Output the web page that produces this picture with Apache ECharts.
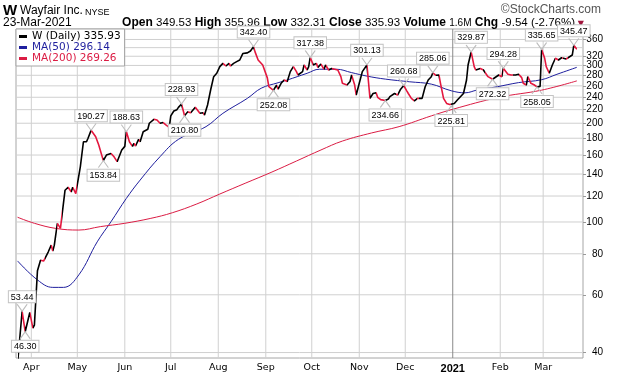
<!DOCTYPE html>
<html>
<head>
<meta charset="utf-8">
<script src="https://cdn.jsdelivr.net/npm/echarts@6/dist/echarts.min.js"></script>
<style>
  html, body { margin: 0; background: #fff; }
  #chart { width: 620px; height: 376px; }
</style>
</head>
<body>
<div id="chart"></div>
<script>
// daily close
const priceDates = [
  '2020-03-23','2020-03-26','2020-03-28','2020-03-31','2020-04-02','2020-04-03','2020-04-05','2020-04-07','2020-04-09','2020-04-10','2020-04-12','2020-04-14','2020-04-15','2020-04-16','2020-04-18','2020-04-20','2020-04-21','2020-04-23','2020-04-25','2020-04-27','2020-04-28','2020-04-30',
  '2020-05-01','2020-05-03','2020-05-05','2020-05-07','2020-05-08','2020-05-10','2020-05-13','2020-05-15','2020-05-16','2020-05-18','2020-05-20','2020-05-23','2020-05-25','2020-05-27','2020-05-30',
  '2020-06-01','2020-06-02','2020-06-04','2020-06-06','2020-06-07','2020-06-08','2020-06-10','2020-06-11','2020-06-13','2020-06-16','2020-06-17','2020-06-20','2020-06-22','2020-06-24','2020-06-26','2020-06-28','2020-06-30',
  '2020-07-01','2020-07-03','2020-07-05','2020-07-06','2020-07-08','2020-07-10','2020-07-12','2020-07-14','2020-07-15','2020-07-17','2020-07-18','2020-07-20','2020-07-22','2020-07-23','2020-07-25','2020-07-27','2020-07-29','2020-07-31',
  '2020-08-02','2020-08-04','2020-08-06','2020-08-08','2020-08-09','2020-08-11','2020-08-13','2020-08-15','2020-08-17','2020-08-20','2020-08-22','2020-08-24','2020-08-25','2020-08-27','2020-08-30','2020-08-31',
  '2020-09-02','2020-09-03','2020-09-06','2020-09-08','2020-09-09','2020-09-11','2020-09-13','2020-09-15','2020-09-17','2020-09-19','2020-09-21','2020-09-22','2020-09-25','2020-09-26','2020-09-28','2020-09-29','2020-09-30',
  '2020-10-02','2020-10-04','2020-10-05','2020-10-07','2020-10-09','2020-10-10','2020-10-12','2020-10-14','2020-10-16','2020-10-18','2020-10-20','2020-10-21','2020-10-24','2020-10-26','2020-10-27','2020-10-29','2020-10-30',
  '2020-11-01','2020-11-03','2020-11-06','2020-11-07','2020-11-08','2020-11-10','2020-11-12','2020-11-13','2020-11-15','2020-11-18','2020-11-20','2020-11-21','2020-11-24','2020-11-25','2020-11-26','2020-11-28','2020-11-30',
  '2020-12-02','2020-12-03','2020-12-05','2020-12-07','2020-12-09','2020-12-10','2020-12-12','2020-12-14','2020-12-16','2020-12-18','2020-12-19','2020-12-21','2020-12-23','2020-12-24','2020-12-26','2020-12-28','2020-12-30','2020-12-31',
  '2021-01-02','2021-01-04','2021-01-05','2021-01-08','2021-01-10','2021-01-11','2021-01-13','2021-01-15','2021-01-16','2021-01-19','2021-01-21','2021-01-22','2021-01-24','2021-01-27','2021-01-28','2021-01-31',
  '2021-02-02','2021-02-03','2021-02-06','2021-02-08','2021-02-09','2021-02-11','2021-02-13','2021-02-15','2021-02-16','2021-02-18','2021-02-19','2021-02-21','2021-02-23','2021-02-25','2021-02-27','2021-02-28',
  '2021-03-02','2021-03-03','2021-03-05','2021-03-07','2021-03-09','2021-03-11','2021-03-13','2021-03-14','2021-03-16','2021-03-17','2021-03-20','2021-03-21','2021-03-23'
];
const priceValues = [
  37, 53.44, 46.30, 53, 47.5, 48.5, 71, 76.5, 76, 75, 81, 85, 81.5, 85, 99, 95.6, 95, 125, 127.6, 123.5, 127.6, 122,
  121, 147.5, 175.6, 175.6, 180, 190.27, 182, 171.7, 170, 153.84, 160, 161.8, 158, 152.7, 165.8,
  170, 188.63, 175.6, 170, 173.7, 170.5, 178.6, 175.6, 188.5, 191.8, 200, 205.6, 204.6, 200, 201, 197.5, 194.4,
  210.6, 218, 220, 223.6, 228.93, 210.80, 216.6, 215.4, 216.6, 223.6, 220.6, 214.4, 215.4, 211.9, 227.3, 252.5, 277.3, 284,
  297.6, 304.5, 298.9, 304.5, 298.9, 304.5, 308.2, 311.7, 326.2, 327.7, 332, 342.40, 330, 311.7, 301, 297.6,
  275, 258.4, 252.08, 261.5, 254, 264.7, 270.9, 268.1, 287.3, 297.6, 287.3, 280.6, 287.3, 301, 290.6, 297.6, 317.38,
  301, 304.5, 296, 303, 292.2, 301, 290.6, 293.6, 292.2, 290.6, 277.3, 264.7, 261.5, 268.1, 280.6, 261.5, 243.8,
  264.7, 287.3, 301.13, 299, 238, 246.4, 247.6, 240, 236, 234.66, 237, 241, 246.4, 249.6, 243.8, 254, 260.68,
  251, 246.4, 238.2, 234, 238.2, 237, 238.2, 258.4, 270.9, 277.3, 285.06, 280, 280.6, 264.7, 238.2, 229.8, 228, 225.81,
  229.8, 235.4, 238.2, 246.4, 270.9, 301, 329.87, 297.6, 290.6, 293.6, 290.6, 293.6, 277.3, 272.32, 274, 280.6,
  277.3, 294.28, 282, 280.6, 277.3, 280.6, 282, 275.5, 264.7, 261.5, 277.3, 264.7, 262, 258.05, 259, 335.65,
  315.5, 297.6, 284, 301, 315.5, 311.7, 316.7, 313.2, 314, 311.7, 322.8, 345.47, 335.93
];

// 50-day moving average
const ma50Dates = ['2020-03-23','2020-04-05','2020-04-15','2020-04-22','2020-05-02','2020-05-14','2020-05-23','2020-06-02','2020-06-11','2020-06-24','2020-07-06','2020-07-24','2020-08-04','2020-08-20','2020-08-29','2020-09-09','2020-09-15','2020-09-28','2020-10-06','2020-10-17','2020-10-27','2020-11-06','2020-11-18','2020-12-04','2020-12-18','2020-12-31','2021-01-09','2021-01-17','2021-01-30','2021-02-13','2021-02-28','2021-03-10','2021-03-23'];
const ma50Values = [76.1, 66.6, 63.2, 63.2, 69, 87, 100.2, 118, 134.2, 158.2, 178.6, 195.3, 214.4, 238.2, 255.7, 265.7, 270.9, 284, 292.2, 292.2, 285.3, 278.4, 272.6, 267.5, 263.2, 251.2, 247.6, 252.5, 258.4, 266, 271.5, 282, 296.14];

// 200-day moving average
const ma200Dates = ['2020-03-23','2020-04-03','2020-04-17','2020-05-02','2020-05-16','2020-06-01','2020-06-18','2020-07-02','2020-07-18','2020-08-02','2020-08-19','2020-09-05','2020-09-21','2020-10-07','2020-10-21','2020-11-09','2020-11-27','2020-12-18','2021-01-01','2021-01-31','2021-02-28','2021-03-23'];
const ma200Values = [103.4, 99.1, 95.6, 94.5, 96.8, 99.1, 102.6, 106.7, 113.5, 121.7, 131.5, 142, 153.4, 165.8, 176.5, 186.8, 195.3, 210.6, 220.6, 239.8, 252.3, 269.26];

// tagged highs / lows
const annoDates = ['2020-03-26','2020-03-28','2020-05-10','2020-05-18','2020-06-02','2020-07-08','2020-07-10','2020-08-24','2020-09-06','2020-09-30','2020-11-06','2020-11-18','2020-11-30','2020-12-19','2020-12-31','2021-01-13','2021-01-27','2021-02-03','2021-02-25','2021-02-28','2021-03-21'];
const annoValues = [53.44, 46.30, 190.27, 153.84, 188.63, 228.93, 210.80, 342.40, 252.08, 317.38, 301.13, 234.66, 260.68, 285.06, 225.81, 329.87, 272.32, 294.28, 258.05, 335.65, 345.47];
const annoSides = ['top','bottom','top','bottom','top','top','bottom','top','bottom','top','top','bottom','top','top','bottom','top','bottom','top','bottom','top','top'];

// axes
const yTicks = [40, 60, 80, 100, 120, 140, 160, 180, 200, 220, 240, 260, 280, 300, 320, 340, 360];
const monthStarts = ['2020-04-01','2020-05-01','2020-06-01','2020-07-01','2020-08-01','2020-09-01','2020-10-01','2020-11-01','2020-12-01','2021-01-01','2021-02-01','2021-03-01'];
const monthNames = ['Jan','Feb','Mar','Apr','May','Jun','Jul','Aug','Sep','Oct','Nov','Dec'];

// header quote
const quoteLabels = ['Open', 'High', 'Low', 'Close', 'Volume', 'Chg'];
const quoteValues = ['349.53', '355.96', '332.31', '335.93', '1.6M', '-9.54 (-2.76%)'];

const UP = '#000000';
const DOWN = '#e3173e';
const NAVY = '#1f1f9e';
const CRIMSON = '#db1c44';
const GRID = '#d0d0d0';
const YEAR_LINE = '#8a8a8a';

const toTime = s => Date.parse(s);
const lg = v => Math.log10(v);

const X_MIN = toTime('2020-03-22');
const X_MAX = toTime('2021-03-27');
const Y_MIN = lg(38.5);
const Y_MAX = lg(387.5);

const priceData = priceDates.map((d, i) => [toTime(d), lg(priceValues[i])]);
const ma50Data = ma50Dates.map((d, i) => [toTime(d), lg(ma50Values[i])]);
const ma200Data = ma200Dates.map((d, i) => [toTime(d), lg(ma200Values[i])]);

// black when the close went up, red when it went down
const pieces = [];
for (let i = 0; i < priceData.length - 1; i++) {
  const p = { gte: priceData[i][0], color: priceValues[i + 1] >= priceValues[i] ? UP : DOWN };
  if (i === priceData.length - 2) p.lte = priceData[i + 1][0];
  else p.lt = priceData[i + 1][0];
  pieces.push(p);
}

const priceName = 'W (Daily) ' + priceValues[priceValues.length - 1].toFixed(2);
const ma50Name = 'MA(50) ' + ma50Values[ma50Values.length - 1].toFixed(2);
const ma200Name = 'MA(200) ' + ma200Values[ma200Values.length - 1].toFixed(2);

const annoData = annoDates.map((d, i) => {
  const top = annoSides[i] === 'top';
  return {
    value: [toTime(d), lg(annoValues[i]), annoValues[i]],
    symbol: top ? 'path://M0,0L5,7L10,0' : 'path://M0,7L5,0L10,7',
    symbolOffset: [0, top ? -3.5 : 3.5],
    label: { position: annoSides[i] }
  };
});

// grid lines as plain two-point line series through the axes
const gridSeries = yTicks.map(v => ({
    type: 'line',
    data: [[X_MIN, lg(v)], [X_MAX, lg(v)]],
    symbol: 'none',
    silent: true,
    z: 2,
    lineStyle: { color: GRID, width: 1 },
    itemStyle: { color: GRID }
  }))
  .concat(monthStarts.map(d => {
    const c = d.endsWith('01-01') ? YEAR_LINE : GRID;
    return {
      type: 'line',
      data: [[toTime(d), Y_MIN], [toTime(d), Y_MAX]],
      symbol: 'none',
      silent: true,
      z: 2,
      lineStyle: { color: c, width: 1 },
      itemStyle: { color: c }
    };
  }));

const quoteText = quoteLabels.map((l, i) =>
  '{b|' + l + '} {' + (l === 'Volume' ? 's' : 'n') + '|' + quoteValues[i] + '}'
).join(' ');

const chart = echarts.init(document.getElementById('chart'));

chart.setOption({
  animation: false,
  backgroundColor: '#fff',
  textStyle: { fontFamily: 'Liberation Sans' },
  grid: {
    left: 16, right: 37, top: 29, bottom: 18,
    show: true, borderColor: '#a6a6a6', borderWidth: 1,
    backgroundColor: 'transparent',
    outerBoundsMode: 'none'
  },
  graphic: [
    { type: 'text', left: 3, top: 3, style: { text: 'W', font: 'bold 15px "Liberation Sans"', fill: '#000' } },
    { type: 'text', left: 20, top: 5, style: { text: 'Wayfair Inc.', font: '12px "Liberation Sans"', fill: '#000' } },
    { type: 'text', left: 85, top: 8, style: { text: 'NYSE', font: '9px "Liberation Sans"', fill: '#000' } },
    { type: 'text', left: 3, top: 17, style: { text: '23-Mar-2021', font: '12px "Liberation Sans"', fill: '#000' } },
    {
      type: 'text', right: 45, top: 17,
      style: {
        text: quoteText,
        font: '12px "Liberation Sans"',
        fill: '#000',
        rich: {
          b: { fontWeight: 'bold', fontSize: 12, fontFamily: 'Liberation Sans' },
          n: { fontSize: 11.5, fontFamily: 'Liberation Sans' },
          s: { fontSize: 10, fontFamily: 'Liberation Sans' }
        }
      }
    },
    { type: 'text', right: 36, top: 20, style: { text: '\u25BC', font: '8px "DejaVu Sans"', fill: '#a0143c' } },
    { type: 'text', right: 19, top: 4, style: { text: '\u00A9StockCharts.com', font: '12px "Liberation Sans"', fill: '#555' } }
  ],
  legend: {
    orient: 'vertical',
    left: 16, top: 29,
    z: 10,
    padding: [2, 4, 2, 3],
    itemGap: 0,
    itemWidth: 8,
    itemHeight: 3,
    icon: 'rect',
    selectedMode: false,
    backgroundColor: '#fff',
    borderColor: '#a6a6a6',
    borderWidth: 1,
    borderRadius: 0,
    textStyle: { fontFamily: 'DejaVu Sans', fontSize: 10.5, lineHeight: 10 },
    data: [
      { name: priceName, itemStyle: { color: UP }, textStyle: { color: '#000' } },
      { name: ma50Name, itemStyle: { color: NAVY }, textStyle: { color: NAVY } },
      { name: ma200Name, itemStyle: { color: CRIMSON }, textStyle: { color: CRIMSON } }
    ]
  },
  visualMap: {
    type: 'piecewise',
    show: false,
    dimension: 0,
    seriesIndex: 0,
    pieces: pieces
  },
  xAxis: {
    type: 'value',
    min: X_MIN,
    max: X_MAX,
    axisLine: { show: false },
    axisTick: { show: false },
    splitLine: { show: false },
    axisLabel: {
      customValues: monthStarts.map(toTime),
      margin: 5,
      fontSize: 9.5,
      fontFamily: 'DejaVu Sans',
      color: '#000',
      formatter: v => {
        const d = new Date(v);
        const m = d.getUTCMonth();
        return m === 0 ? '{y|' + d.getUTCFullYear() + '}' : monthNames[m];
      },
      rich: {
        y: { fontWeight: 'bold', fontSize: 11, fontFamily: 'Liberation Sans', color: '#000' }
      }
    }
  },
  yAxis: {
    type: 'value',
    position: 'right',
    min: Y_MIN,
    max: Y_MAX,
    axisLine: { show: false },
    splitLine: { show: false },
    axisTick: {
      show: true,
      customValues: yTicks.map(lg),
      length: 3,
      lineStyle: { color: '#999' }
    },
    axisLabel: {
      customValues: yTicks.map(lg),
      formatter: v => String(Math.round(Math.pow(10, v))),
      align: 'right',
      margin: 20,
      fontSize: 10,
      lineHeight: 8,
      fontFamily: 'Liberation Sans',
      color: '#000',
      showMinLabel: true,
      showMaxLabel: true,
      hideOverlap: false
    }
  },
  series: [
    {
      name: priceName,
      type: 'line',
      data: priceData,
      symbol: 'none',
      showSymbol: false,
      z: 4,
      lineStyle: { width: 1.6 },
      itemStyle: { color: UP }
    },
    {
      name: ma50Name,
      type: 'line',
      data: ma50Data,
      symbol: 'none',
      smooth: 0.4,
      z: 3,
      lineStyle: { width: 1, color: NAVY },
      itemStyle: { color: NAVY }
    },
    {
      name: ma200Name,
      type: 'line',
      data: ma200Data,
      symbol: 'none',
      smooth: 0.4,
      z: 3,
      lineStyle: { width: 1, color: CRIMSON },
      itemStyle: { color: CRIMSON }
    },
    {
      name: 'tags',
      type: 'scatter',
      data: annoData,
      symbolSize: [10, 7],
      z: 6,
      silent: true,
      itemStyle: { color: 'none', borderColor: '#bdbdbd', borderWidth: 1, opacity: 1 },
      label: {
        show: true,
        distance: 0,
        formatter: p => p.value[2].toFixed(2),
        fontSize: 9,
        fontFamily: 'Liberation Sans',
        color: '#000',
        backgroundColor: '#fff',
        borderColor: '#c4c4c4',
        borderWidth: 1,
        padding: [1, 2, 0, 2],
        lineHeight: 10
      }
    }
  ].concat(gridSeries)
});
</script>
</body>
</html>
